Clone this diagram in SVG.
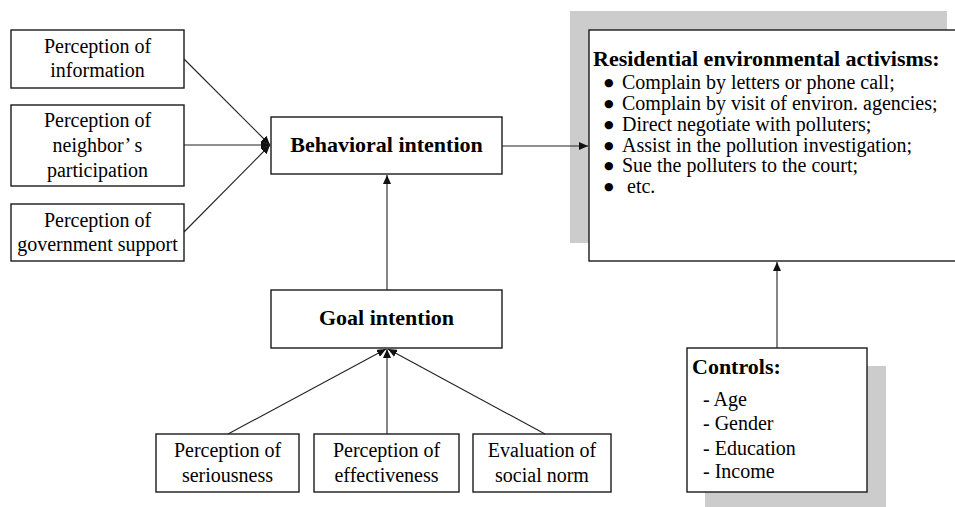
<svg xmlns="http://www.w3.org/2000/svg" width="955" height="507" viewBox="0 0 955 507">
<style>
.box{fill:#fff;stroke:#1a1a1a;stroke-width:1.4}
.shadow{fill:#cccccc;stroke:none}
.t{font-family:"Liberation Serif","Times New Roman",serif;font-size:20px;fill:#000}
.c{text-anchor:middle}
.b{font-family:"Liberation Serif","Times New Roman",serif;font-size:22px;font-weight:bold;fill:#000}
.bul{font-family:"DejaVu Sans",sans-serif;font-size:11px;fill:#000}
.ln{stroke:#222;stroke-width:1.1;fill:none}
</style>
<defs>
<marker id="arr" markerUnits="userSpaceOnUse" markerWidth="10" markerHeight="8" refX="9" refY="4" orient="auto">
<path d="M0,0 L9,4 L0,8 Z" fill="#111"/>
</marker>
</defs>
<rect width="955" height="507" fill="#fff"/>

<g id="perc-information">
<rect class="box" x="11" y="30" width="173" height="58"/>
<text class="t c" x="97.5" y="53">Perception of</text>
<text class="t c" x="97.5" y="77">information</text>
</g>

<g id="perc-neighbor">
<rect class="box" x="11" y="105" width="173" height="81"/>
<text class="t c" x="97.5" y="127">Perception of</text>
<text class="t c" x="97.5" y="152">neighbor’ s</text>
<text class="t c" x="97.5" y="177">participation</text>
</g>

<g id="perc-government">
<rect class="box" x="11" y="204" width="173" height="57"/>
<text class="t c" x="97.5" y="227">Perception of</text>
<text class="t c" x="97.5" y="251">government support</text>
</g>

<g id="behavioral-intention">
<rect class="box" x="271" y="117" width="231" height="57"/>
<text class="b c" x="386.5" y="152">Behavioral intention</text>
</g>

<g id="goal-intention">
<rect class="box" x="271" y="290" width="231" height="58"/>
<text class="b c" x="386.5" y="325">Goal intention</text>
</g>

<g id="perc-seriousness">
<rect class="box" x="156" y="434" width="143" height="58"/>
<text class="t c" x="227.5" y="457">Perception of</text>
<text class="t c" x="227.5" y="482">seriousness</text>
</g>

<g id="perc-effectiveness">
<rect class="box" x="314" y="434" width="145" height="58"/>
<text class="t c" x="386.5" y="457">Perception of</text>
<text class="t c" x="386.5" y="482">effectiveness</text>
</g>

<g id="eval-social-norm">
<rect class="box" x="473" y="434" width="138" height="58"/>
<text class="t c" x="542" y="457">Evaluation of</text>
<text class="t c" x="542" y="482">social norm</text>
</g>

<g id="activisms">
<rect class="shadow" x="570" y="11" width="377" height="232"/>
<rect class="box" x="589" y="30" width="380" height="231"/>
<text class="b" x="593" y="66">Residential environmental activisms:</text>
<text class="bul" x="604" y="86">●</text>
<text class="t" x="622" y="89">Complain by letters or phone call;</text>
<text class="bul" x="604" y="107">●</text>
<text class="t" x="622" y="110">Complain by visit of environ. agencies;</text>
<text class="bul" x="604" y="128">●</text>
<text class="t" x="622" y="131">Direct negotiate with polluters;</text>
<text class="bul" x="604" y="149">●</text>
<text class="t" x="622" y="152">Assist in the pollution investigation;</text>
<text class="bul" x="604" y="169">●</text>
<text class="t" x="622" y="172">Sue the polluters to the court;</text>
<text class="bul" x="604" y="190">●</text>
<text class="t" x="627" y="193">etc.</text>
</g>

<g id="controls">
<rect class="shadow" x="705" y="366" width="181" height="141"/>
<rect class="box" x="687" y="348" width="180" height="144"/>
<text class="b" x="692" y="374">Controls:</text>
<text class="t" x="703" y="406">- Age</text>
<text class="t" x="703" y="430">- Gender</text>
<text class="t" x="703" y="455">- Education</text>
<text class="t" x="703" y="478">- Income</text>
</g>

<g id="connectors">
<line class="ln" x1="184" y1="59" x2="270" y2="145" marker-end="url(#arr)"/>
<line class="ln" x1="184" y1="145" x2="270" y2="145" marker-end="url(#arr)"/>
<line class="ln" x1="184" y1="232" x2="270" y2="145" marker-end="url(#arr)"/>
<line class="ln" x1="502" y1="146" x2="588" y2="146" marker-end="url(#arr)"/>
<line class="ln" x1="387" y1="290" x2="387" y2="175" marker-end="url(#arr)"/>
<line class="ln" x1="228" y1="434" x2="386" y2="349" marker-end="url(#arr)"/>
<line class="ln" x1="387" y1="434" x2="387" y2="349" marker-end="url(#arr)"/>
<line class="ln" x1="545" y1="434" x2="388" y2="349" marker-end="url(#arr)"/>
<line class="ln" x1="777" y1="348" x2="777" y2="262" marker-end="url(#arr)"/>
</g>
</svg>
